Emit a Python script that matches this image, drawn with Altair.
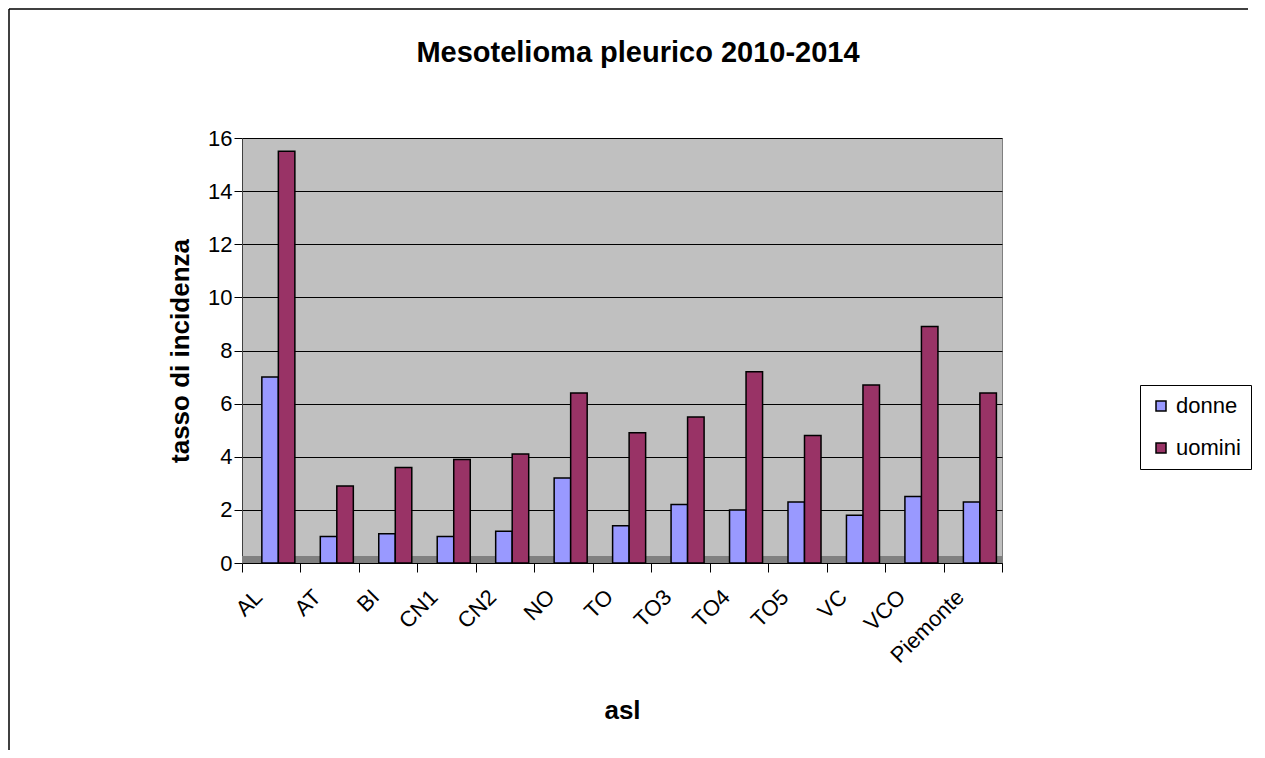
import altair as alt
import pandas as pd

title_text = "Mesotelioma pleurico 2010-2014"
categories = ["AL", "AT", "BI", "CN1", "CN2", "NO", "TO", "TO3", "TO4", "TO5", "VC", "VCO", "Piemonte"]
donne = [7.0, 1.0, 1.1, 1.0, 1.2, 3.2, 1.4, 2.2, 2.0, 2.3, 1.8, 2.5, 2.3]
uomini = [15.5, 2.9, 3.6, 3.9, 4.1, 6.4, 4.9, 5.5, 7.2, 4.8, 6.7, 8.9, 6.4]
series = ["donne", "uomini"]
colors = ["#9999ff", "#993366"]

rows = []
for c, d, u in zip(categories, donne, uomini):
    rows.append({"asl": c, "serie": "donne", "valore": d})
    rows.append({"asl": c, "serie": "uomini", "valore": u})
df = pd.DataFrame(rows)

W, H = 760, 425
FONT = "Liberation Sans"
one = pd.DataFrame({"k": [0]})

floor = alt.Chart(one).mark_rect(color="#808080").encode(
    x=alt.value(0), x2=alt.value(W), y=alt.value(H - 7), y2=alt.value(H)
)

top_line = alt.Chart(one).mark_rule(color="#404040", strokeWidth=2).encode(
    x=alt.value(-233), x2=alt.value(1006), y=alt.value(-129)
)
left_line = alt.Chart(one).mark_rule(color="black", strokeWidth=1.5).encode(
    x=alt.value(-233), y=alt.value(-129), y2=alt.value(620)
)

title = alt.Chart(one).mark_text(
    fontSize=29, font=FONT, fontWeight="bold", color="black", baseline="alphabetic"
).encode(x=alt.value(396), y=alt.value(-76), text=alt.value(title_text))

bars = alt.Chart(df).mark_bar(stroke="black", strokeWidth=1.5).encode(
    x=alt.X("asl:N", sort=categories,
            scale=alt.Scale(paddingInner=0, paddingOuter=0),
            axis=alt.Axis(title="asl", labelAngle=-45, tickBand="extent",
                          labelFontSize=22, titleFontSize=26, titleFontWeight="bold",
                          titlePadding=31, labelPadding=14, labelOffset=-20, tickSize=9,
                          domainColor="black", tickColor="black", labelColor="black",
                          labelFont=FONT, titleFont=FONT)),
    xOffset=alt.XOffset("serie:N", sort=series,
                        scale=alt.Scale(paddingInner=0, paddingOuter=0.77, align=0.78)),
    y=alt.Y("valore:Q", scale=alt.Scale(domain=[0, 16]),
            axis=alt.Axis(title="tasso di incidenza", values=list(range(0, 17, 2)),
                          labelFontSize=22, titleFontSize=26, titleFontWeight="bold",
                          titlePadding=14, tickSize=8, labelPadding=2, grid=True,
                          gridColor="black", gridWidth=1, domainColor="#404040",
                          tickColor="black", labelColor="black",
                          labelFont=FONT, titleFont=FONT)),
    color=alt.Color("serie:N", sort=series,
                    scale=alt.Scale(domain=series, range=colors),
                    legend=alt.Legend(title=None, orient="none", legendX=898, legendY=247,
                                      symbolType="square", symbolSize=100,
                                      symbolStrokeColor="black", symbolStrokeWidth=1.5,
                                      labelFontSize=22, labelFont=FONT, labelColor="black",
                                      strokeColor="black", padding=10, rowPadding=20,
                                      labelOffset=4)),
)

chart = alt.layer(floor, bars, top_line, left_line, title).properties(
    width=W, height=H,
    padding={"left": 234, "top": 130, "right": 255, "bottom": 187},
    autosize=alt.AutoSizeParams(type="none"),
    background="white",
).configure_view(fill="#c0c0c0", stroke="#808080")

chart.save("out.html", embed_options={"renderer": "svg", "actions": False})
